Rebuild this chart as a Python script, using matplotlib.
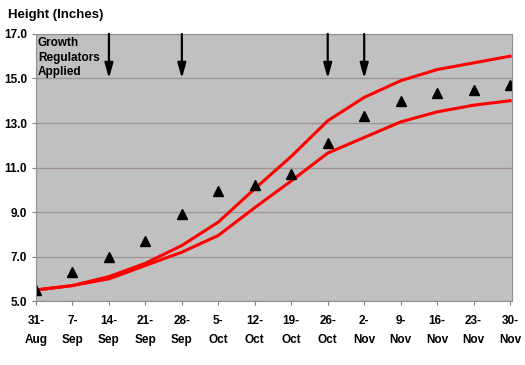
import matplotlib.pyplot as plt

plt.rcParams['font.family'] = ['Liberation Sans', 'DejaVu Sans']

dates = ["31-\nAug", "7-\nSep", "14-\nSep", "21-\nSep", "28-\nSep", "5-\nOct", "12-\nOct",
         "19-\nOct", "26-\nOct", "2-\nNov", "9-\nNov", "16-\nNov", "23-\nNov", "30-\nNov"]
measured = [5.5, 6.3, 7.0, 7.7, 8.9, 9.95, 10.2, 10.7, 12.1, 13.3, 14.0, 14.35, 14.5, 14.7]
upper = [5.5, 5.7, 6.1, 6.7, 7.5, 8.55, 10.05, 11.5, 13.1, 14.15, 14.9, 15.4, 15.7, 16.0]
lower = [5.5, 5.7, 6.0, 6.6, 7.2, 7.95, 9.2, 10.4, 11.65, 12.35, 13.05, 13.5, 13.8, 14.0]
regulator_dates = [2, 4, 8, 9]  # index into dates

fig = plt.figure(figsize=(5.25, 3.65), dpi=100)
ax = fig.add_axes([0.0686, 0.175, 0.9064, 0.732])
ax.set_facecolor("#c0c0c0")

x = list(range(len(dates)))
ax.plot(x, upper, color="#ff0000", lw=2.2)
ax.plot(x, lower, color="#ff0000", lw=2.2)
ax.plot(x, measured, linestyle="none", marker="^", color="black", markersize=7)

# arrows marking growth regulator applications
for idx in regulator_dates:
    ax.annotate("", xy=(idx, 15.0), xytext=(idx, 17.0),
                arrowprops=dict(arrowstyle="-|>,head_width=0.25,head_length=0.9",
                                color="black", lw=1.6, shrinkA=0, shrinkB=0))

ax.text(0.05, 16.85, "Growth\nRegulators\nApplied", fontsize=8.5, fontweight="bold",
        va="top", ha="left", linespacing=1.25, transform=ax.transData)

ax.set_xlim(0, len(dates) - 1 + 0.05)
ax.set_ylim(5.0, 17.0)
ax.set_yticks([5.0, 7.0, 9.0, 11.0, 13.0, 15.0, 17.0])
ax.set_yticklabels(["%.1f" % v for v in [5.0, 7.0, 9.0, 11.0, 13.0, 15.0, 17.0]],
                   fontsize=8.5, fontweight="bold")
ax.set_xticks(x)
ax.set_xticklabels(dates, fontsize=8.5, fontweight="bold", linespacing=1.75)
ax.tick_params(axis="both", length=3, color="#808080")
ax.tick_params(axis="x", pad=7)
ax.grid(axis="y", color="#a09494", lw=1)
ax.set_axisbelow(True)
for side in ["left", "bottom", "right", "top"]:
    ax.spines[side].set_color("#909090")

fig.text(8 / 525, 1 - 15 / 365, "Height (Inches)", fontsize=9.5, fontweight="bold",
         va="center", ha="left")

fig.savefig("out.png", dpi=100)
